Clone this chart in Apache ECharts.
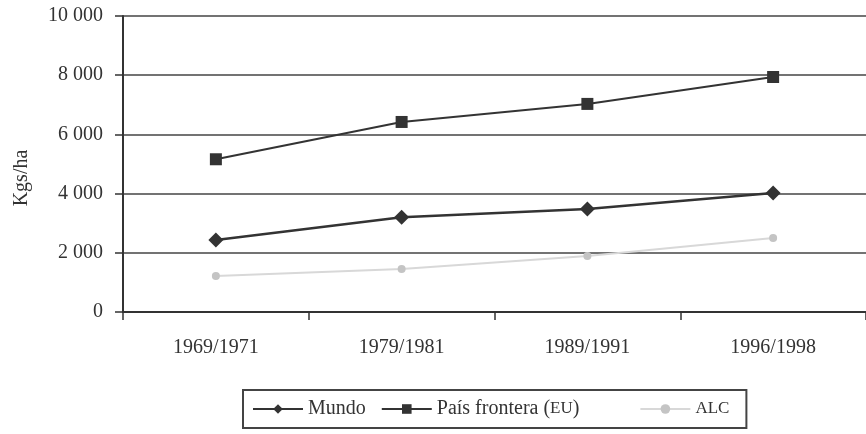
<!DOCTYPE html>
<html>
<head>
<meta charset="utf-8">
<script src="https://cdn.jsdelivr.net/npm/echarts@6/dist/echarts.min.js"></script>
<style>
  html, body { margin: 0; padding: 0; background: #fff; }
  #chart { width: 866px; height: 434px; }
</style>
</head>
<body>
<div id="chart"></div>
<script>
// periodos (eje x)
const periods = ['1969/1971', '1979/1981', '1989/1991', '1996/1998']
// rendimientos en Kgs/ha
const mundo = [2430, 3200, 3480, 4020]
const paisFrontera = [5160, 6420, 7030, 7940]
const alc = [1220, 1450, 1890, 2500]

const font = '"Liberation Serif", "DejaVu Serif", serif'
const ink = '#333'

const chart = echarts.init(document.getElementById('chart'))

// 10000 -> "10 000"
const fmt = v => v >= 1000 ? Math.floor(v / 1000) + ' ' + String(v % 1000).padStart(3, '0') : String(v)

const option = {
  backgroundColor: '#fff',
  animation: false,
  grid: { left: 123, top: 16, right: -5, bottom: 122 },
  textStyle: { fontFamily: font },
  graphic: [
    {
      type: 'text',
      x: 22,
      y: 178,
      rotation: Math.PI / 2,
      style: {
        text: 'Kgs/ha',
        fontFamily: font,
        fontSize: 20,
        fill: ink,
        textAlign: 'center',
        textVerticalAlign: 'middle'
      }
    }
  ],
  legend: {
    left: 243,
    top: 390,
    padding: [9, 17, 9, 9],
    borderColor: '#444',
    borderWidth: 2,
    itemWidth: 50,
    itemHeight: 12,
    itemGap: 15,
    data: ['Mundo', 'País frontera (EU)', 'ALC'],
    // "EU" en versalitas y más aire antes de ALC
    formatter: name => {
      if (name === 'País frontera (EU)') return '{t|País frontera (}{s|EU}{e|)' + '\u00a0'.repeat(9) + '}'
      if (name === 'ALC') return '{c|ALC}'
      return '{t|' + name + '}'
    },
    textStyle: {
      fontFamily: font,
      fontSize: 20,
      color: ink,
      rich: {
        t: { fontFamily: font, fontSize: 20, color: ink },
        s: { fontFamily: font, fontSize: 17, color: ink },
        e: { fontFamily: font, fontSize: 20, color: ink },
        c: { fontFamily: font, fontSize: 17, color: ink }
      }
    }
  },
  xAxis: {
    type: 'category',
    data: periods,
    boundaryGap: true,
    axisLine: { lineStyle: { color: ink, width: 2 } },
    axisTick: { show: true, length: 8, lineStyle: { color: ink, width: 1.5 } },
    axisLabel: { fontFamily: font, fontSize: 20, color: ink, margin: 26 },
    splitLine: { show: false }
  },
  yAxis: {
    type: 'value',
    min: 0,
    max: 10000,
    interval: 2000,
    axisLine: { show: true, lineStyle: { color: ink, width: 2 } },
    axisTick: { show: true, length: 8, lineStyle: { color: ink, width: 1.5 } },
    axisLabel: { fontFamily: font, fontSize: 20, color: ink, margin: 20, formatter: fmt },
    splitLine: { show: true, lineStyle: { color: '#444', width: 1.6 } }
  },
  series: [
    {
      name: 'Mundo',
      type: 'line',
      data: mundo,
      symbol: 'diamond',
      symbolSize: 15,
      lineStyle: { color: ink, width: 2.5 },
      itemStyle: { color: ink }
    },
    {
      name: 'País frontera (EU)',
      type: 'line',
      data: paisFrontera,
      symbol: 'rect',
      symbolSize: 12,
      lineStyle: { color: ink, width: 2 },
      itemStyle: { color: ink }
    },
    {
      name: 'ALC',
      type: 'line',
      data: alc,
      symbol: 'circle',
      symbolSize: 8,
      lineStyle: { color: '#d8d8d8', width: 2 },
      itemStyle: { color: '#c4c4c4' }
    }
  ]
}

chart.setOption(option)
window.addEventListener('resize', () => chart.resize())
</script>
</body>
</html>
